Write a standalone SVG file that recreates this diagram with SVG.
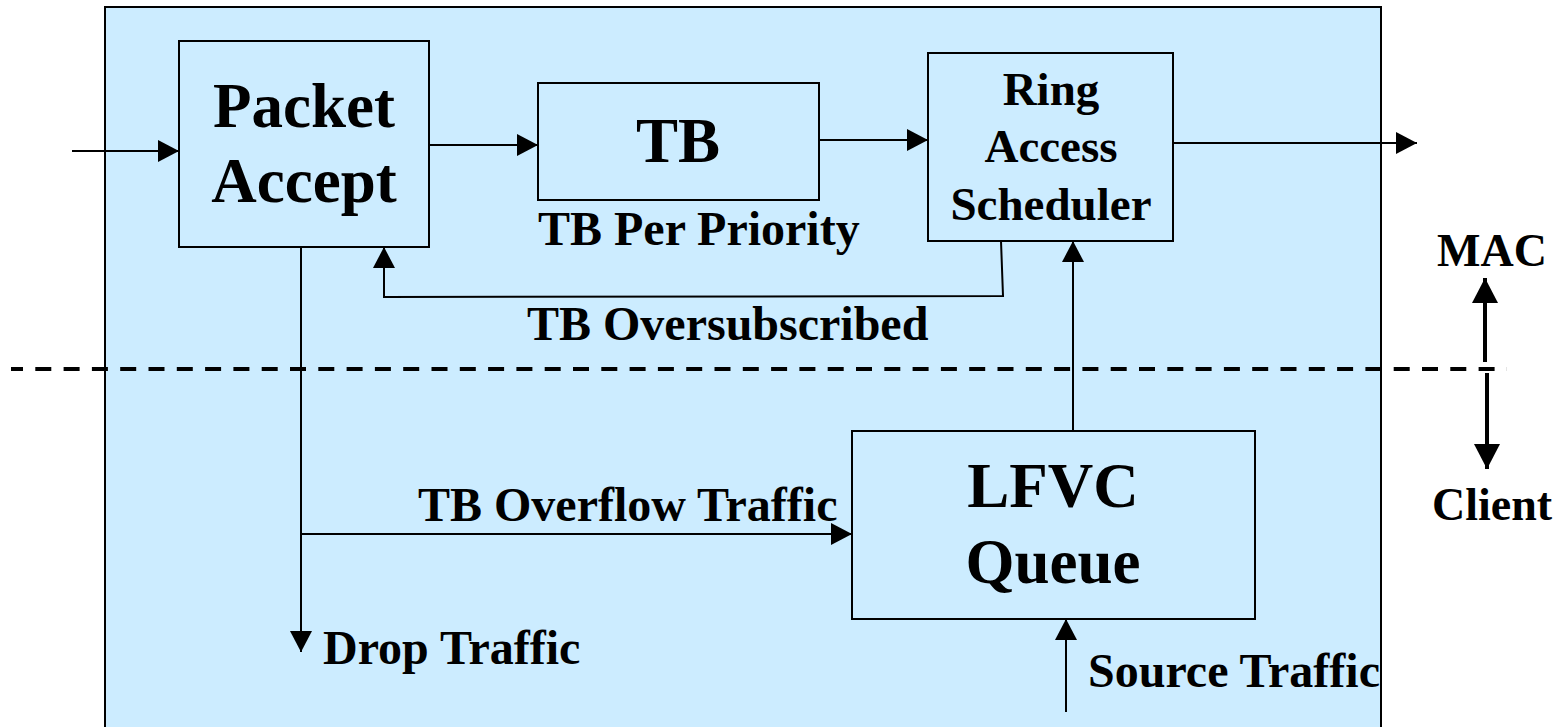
<svg xmlns="http://www.w3.org/2000/svg" width="1564" height="727" viewBox="0 0 1564 727">
  <style>
    .box { fill: #CCECFF; stroke: #000; stroke-width: 2; }
    .wire { fill: none; stroke: #000; stroke-width: 2; }
    .big { font-family: "Liberation Serif", "Times New Roman", serif; font-weight: bold; font-size: 63px; fill: #000; text-anchor: middle; }
    .mid { font-family: "Liberation Serif", "Times New Roman", serif; font-weight: bold; font-size: 47px; fill: #000; text-anchor: middle; }
    .lbl { font-family: "Liberation Serif", "Times New Roman", serif; font-weight: bold; font-size: 48px; fill: #000; }
    .side { font-family: "Liberation Serif", "Times New Roman", serif; font-weight: bold; font-size: 46px; fill: #000; }
  </style>
  <defs>
    <marker id="arrow" markerUnits="userSpaceOnUse" markerWidth="21" markerHeight="22" refX="21" refY="11" orient="auto">
      <path d="M0,0 L21,11 L0,22 z" fill="#000"/>
    </marker>
    <marker id="arrowBig" markerUnits="userSpaceOnUse" markerWidth="25" markerHeight="26" refX="25" refY="13" orient="auto">
      <path d="M0,0 L25,13 L0,26 z" fill="#000"/>
    </marker>
  </defs>

  <rect width="1564" height="727" fill="#fff"/>

  <!-- MAC / client station frame -->
  <rect id="station" x="105" y="7" width="1276" height="800" fill="#CCECFF" stroke="none"/>

  <!-- MAC / client boundary -->
  <line x1="11" y1="369" x2="1507" y2="369" stroke="#000" stroke-width="4" stroke-dasharray="16 12.3" stroke-dashoffset="4"/>

  <g id="connectors">
    <line class="wire" x1="72" y1="151" x2="179" y2="151" marker-end="url(#arrow)"/>
    <line class="wire" x1="429" y1="145" x2="538" y2="145" marker-end="url(#arrow)"/>
    <line class="wire" x1="819" y1="140" x2="928" y2="140" marker-end="url(#arrow)"/>
    <line class="wire" x1="1169" y1="143" x2="1417" y2="143" marker-end="url(#arrow)"/>
    <polyline class="wire" points="1001,241 1003,296 384,297 384,247" marker-end="url(#arrow)"/>
    <line class="wire" x1="1073" y1="431" x2="1073" y2="241" marker-end="url(#arrow)"/>
    <line class="wire" x1="301" y1="247" x2="301" y2="652" marker-end="url(#arrow)"/>
    <line class="wire" x1="301" y1="534" x2="852" y2="534" marker-end="url(#arrow)"/>
    <line class="wire" x1="1066" y1="712" x2="1066" y2="619" marker-end="url(#arrow)"/>
    <line stroke="#000" stroke-width="4" x1="1485" y1="362" x2="1485" y2="278" marker-end="url(#arrowBig)"/>
    <line stroke="#000" stroke-width="4" x1="1487" y1="373" x2="1487" y2="469" marker-end="url(#arrowBig)"/>
  </g>

  <g id="packet-accept">
    <rect class="box" x="179" y="41" width="250" height="206"/>
    <text class="big" x="304" y="127">Packet</text>
    <text class="big" x="304" y="202">Accept</text>
  </g>

  <g id="tb">
    <rect class="box" x="538" y="83" width="281" height="117"/>
    <text class="big" x="678" y="162" font-size="64">TB</text>
  </g>

  <g id="ring-access-scheduler">
    <rect class="box" x="928" y="53" width="245" height="188"/>
    <text class="mid" x="1051" y="105">Ring</text>
    <text class="mid" x="1051" y="162">Access</text>
    <text class="mid" x="1051" y="220">Scheduler</text>
  </g>

  <g id="lfvc-queue">
    <rect class="box" x="852" y="431" width="403" height="188"/>
    <text class="big" x="1053" y="507">LFVC</text>
    <text class="big" x="1053" y="583">Queue</text>
  </g>

  <g id="labels">
    <text class="lbl" x="538" y="245">TB Per Priority</text>
    <text class="lbl" x="527" y="340">TB Oversubscribed</text>
    <text class="lbl" x="418" y="521">TB Overflow Traffic</text>
    <text class="lbl" x="323" y="664">Drop Traffic</text>
    <text class="lbl" x="1088" y="687">Source Traffic</text>
    <text class="side" x="1437" y="266">MAC</text>
    <text class="side" x="1432" y="520">Client</text>
  </g>

  <!-- frame outline drawn last so it sits over the labels it crosses -->
  <rect x="105" y="7" width="1276" height="800" fill="none" stroke="#000" stroke-width="2"/>
</svg>
